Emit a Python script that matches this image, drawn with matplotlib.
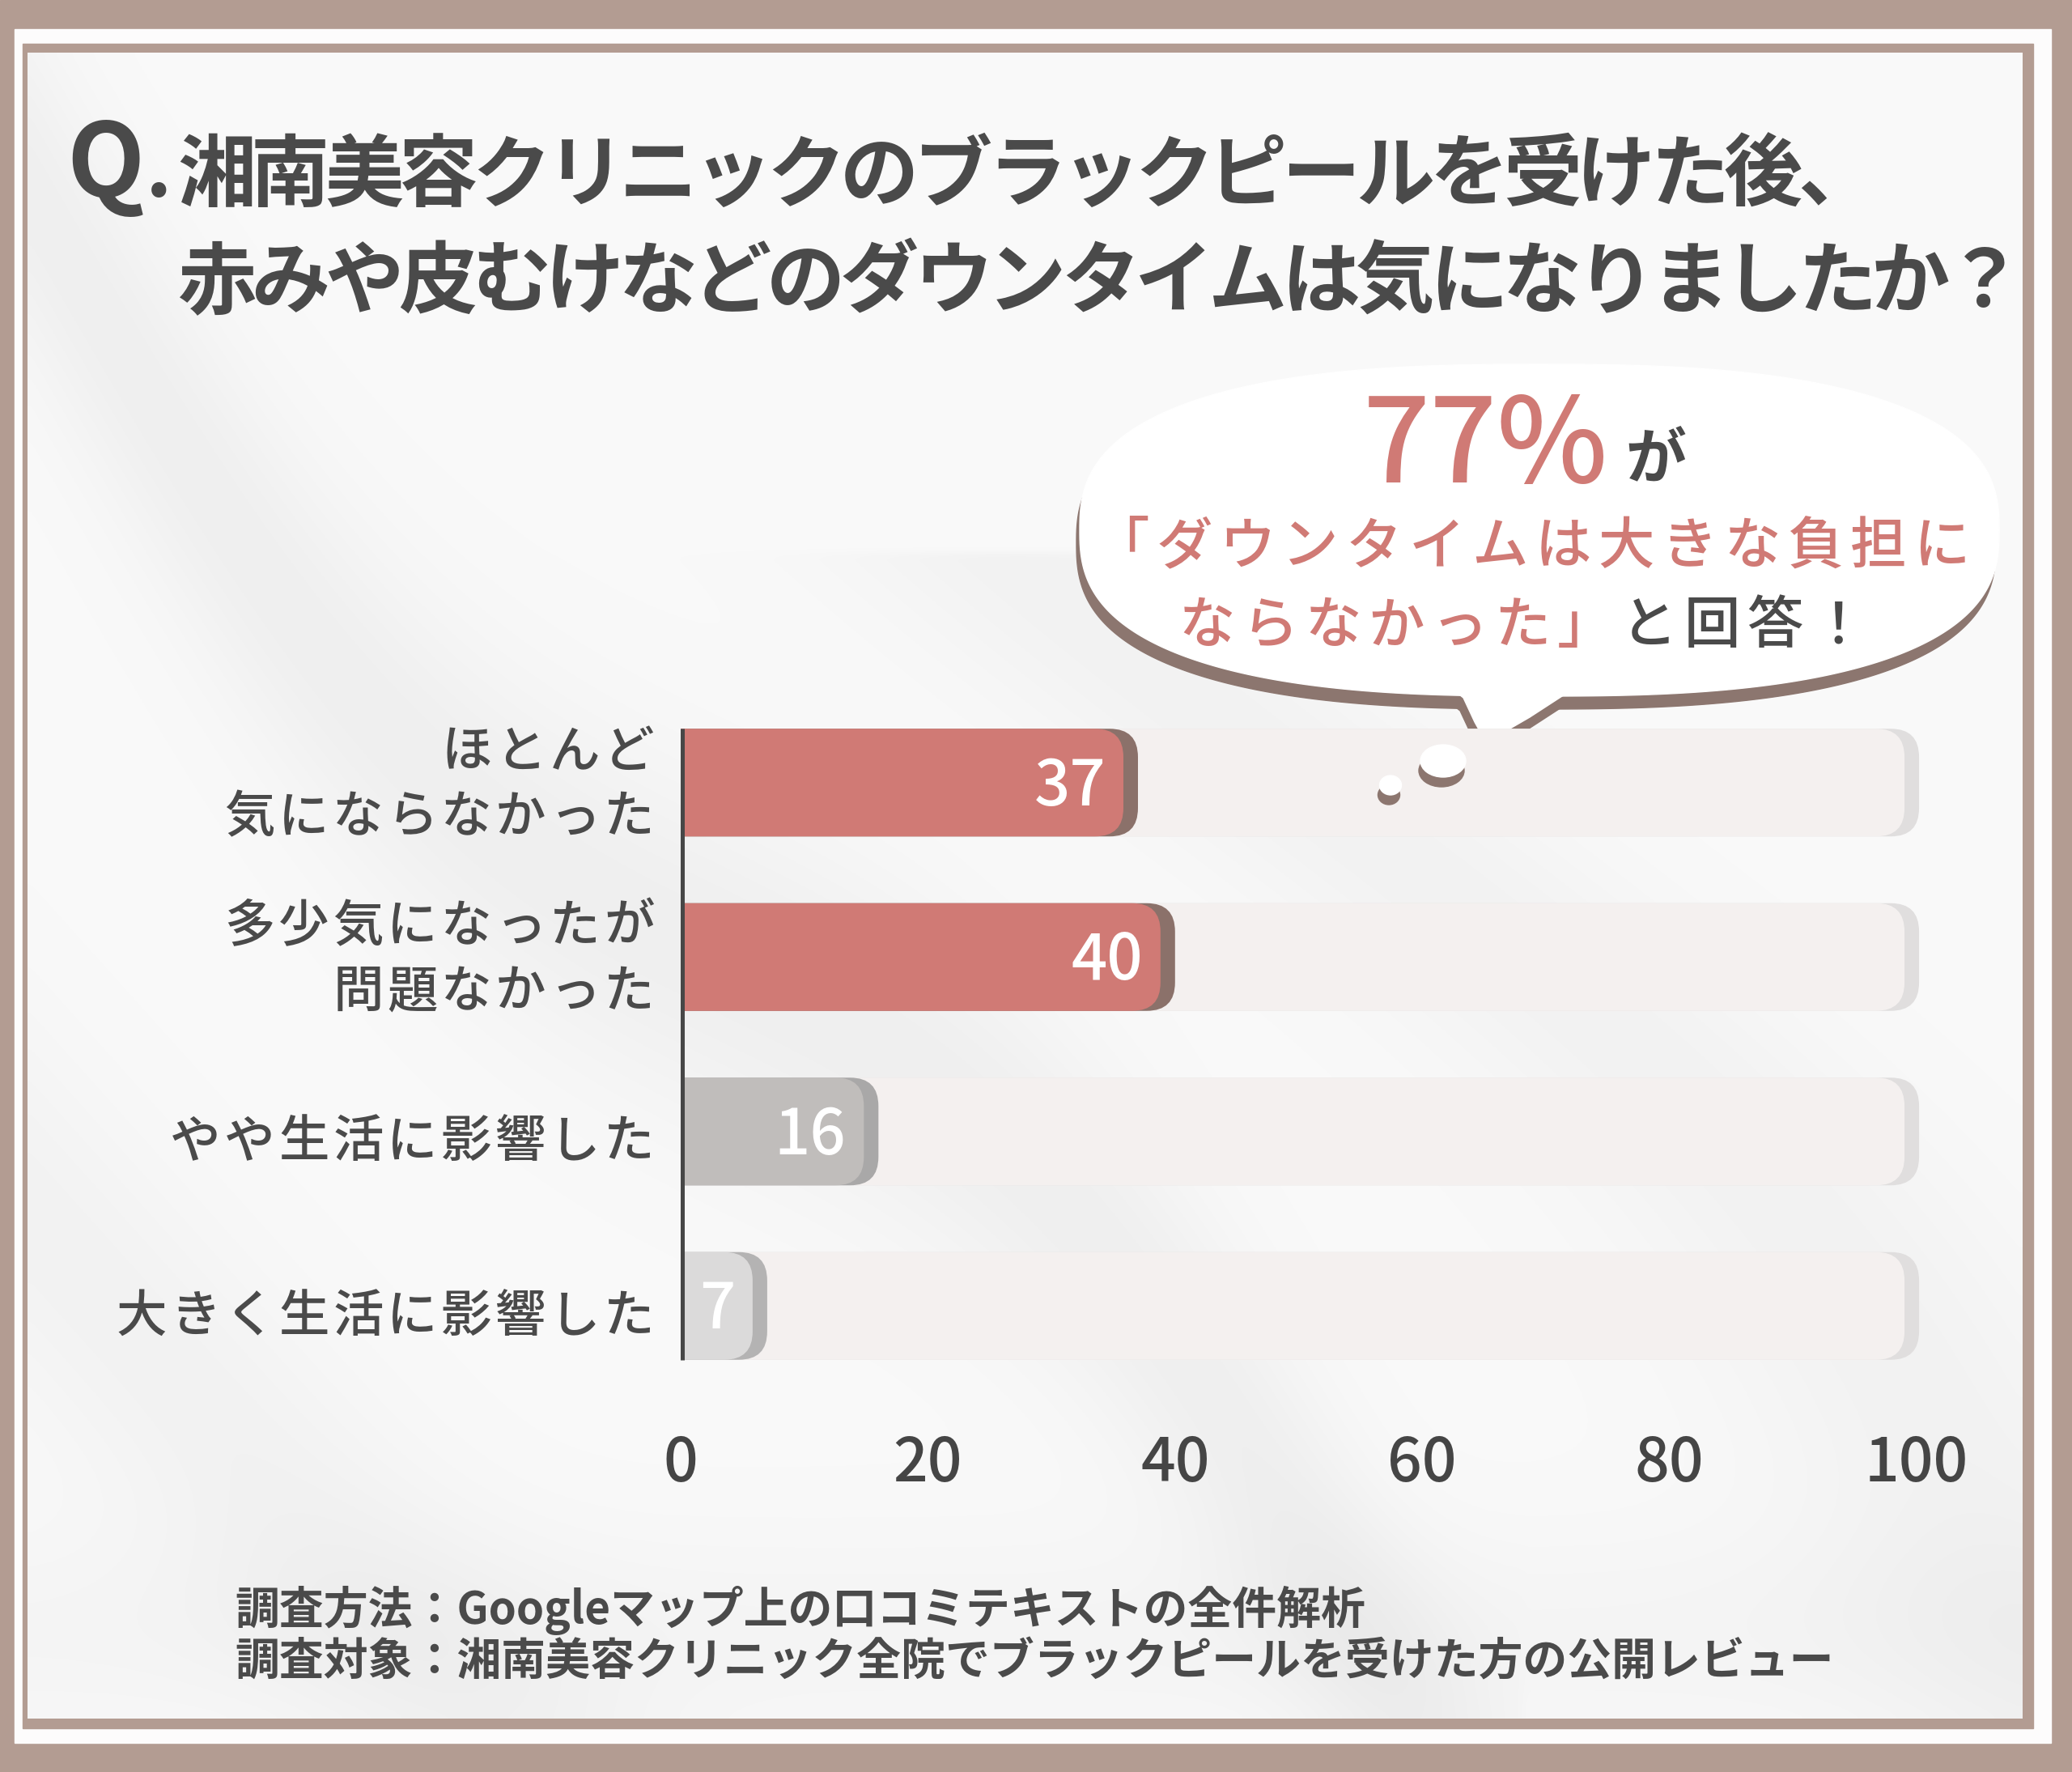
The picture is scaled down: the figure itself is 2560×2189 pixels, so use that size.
import matplotlib.pyplot as plt
import numpy as np
from matplotlib.patches import Ellipse, FancyBboxPatch, Polygon, Rectangle

plt.rcParams["font.family"] = ["Noto Sans CJK JP", "DejaVu Sans"]

# Chart content
title_q = "Q"
title_line1 = "湘南美容クリニックのブラックピールを受けた後、"
title_line2 = "赤みや皮むけなどのダウンタイムは気になりましたか？"
categories = [
    ["ほとんど", "気にならなかった"],
    ["多少気になったが", "問題なかった"],
    ["やや生活に影響した"],
    ["大きく生活に影響した"],
]
values = [37, 40, 16, 7]
x_ticks = [0, 20, 40, 60, 80, 100]
callout_line2 = "「ダウンタイムは大きな負担に"
callout_line3_red = "ならなかった」"
callout_line3_dark = "と回答！"
notes = [
    "調査方法：Googleマップ上の口コミテキストの全件解析",
    "調査対象：湘南美容クリニック全院でブラックピールを受けた方の公開レビュー",
]

W, H, DPI = 2560, 2189, 100
RED = "#d07a75"
DARK = "#4a4a4a"
FRAME = "#b39c92"
SHADOW = "#8c766f"
bar_colors = ["#d07a75", "#d07a75", "#c0bdbb", "#dbdada"]
shadow_colors = ["#8b716a", "#8b716a", "#a9a8a8", "#b4b3b3"]

fig = plt.figure(figsize=(W / DPI, H / DPI), dpi=DPI)


def pixel_axes(z):
    a = fig.add_axes([0, 0, 1, 1], zorder=z)
    a.set_xlim(0, W)
    a.set_ylim(H, 0)
    a.axis("off")
    a.patch.set_alpha(0)
    return a


# Background layer in pixel coordinates (y downwards)
bg = pixel_axes(0)
bg.add_patch(Rectangle((0, 0), W, H, color=FRAME, zorder=0))
bg.add_patch(Rectangle((18, 36), 2516, 2117, color="#fdfcfc", zorder=0))
bg.add_patch(Rectangle((28, 54), 2484, 2081, color=FRAME, zorder=0))

# soft leaf-like shadows on the paper
gx, gy = np.meshgrid(np.linspace(0, 1, 300), np.linspace(0, 1, 260))
u = gx * 0.8 - gy * 0.6
tex = 0.978
tex = tex - 0.04 * np.exp(-((u + 0.05 + 0.05 * np.sin(gx * 9)) ** 2) / 0.004) * (gx < 0.75)
tex = tex - 0.028 * np.exp(-((u - 0.25 + 0.04 * np.sin(gy * 7)) ** 2) / 0.006) * (gy > 0.3)
tex = tex - 0.028 * np.exp(-((u + 0.42) ** 2) / 0.005)
tex = tex - 0.018 * np.exp(-((gy - 0.95) ** 2) / 0.004)
tex = np.clip(tex, 0, 1)
bg.imshow(np.dstack([tex, tex, tex]), extent=(34, 2499, 2123, 65),
          interpolation="bicubic", aspect="auto", zorder=0.5)


def put(a, x, yc, s, size, ha="left", color=DARK, weight="medium", z=5):
    em = size / 72 * DPI
    a.text(x, yc + 0.38 * em, s, fontsize=size, ha=ha, va="baseline",
           color=color, fontweight=weight, zorder=z)


def spaced(a, x0, yc, s, size, pitch, color=DARK, weight="medium", z=5):
    for i, ch in enumerate(s):
        put(a, x0 + pitch * (i + 0.5), yc, ch, size, ha="center", color=color,
            weight=weight, z=z)
    return x0 + pitch * len(s)


# Title
bg.text(82, 243, title_q, fontsize=90, fontweight="bold", color=DARK,
        va="baseline", zorder=5)
bg.text(180, 243, ".", fontsize=72, fontweight="bold", color=DARK,
        va="baseline", zorder=5)
spaced(bg, 222, 210, title_line1, 70, 91, weight="bold")
spaced(bg, 222, 342, title_line2, 70, 91, weight="bold")

# Speech bubble
cx, cy, a, bt, bb = 1902, 655, 568, 205, 205
t = np.linspace(0, 2 * np.pi, 400)
ct, st = np.cos(t), np.sin(t)
n = 2.6
px = cx + a * np.sign(ct) * np.abs(ct) ** (2 / n)
py = cy + np.where(st > 0, bb, bt) * np.sign(st) * np.abs(st) ** (2 / n)
body = np.column_stack([px, py])
tail = np.array([[1780, 840], [1808, 862], [1822, 892], [1832, 910], [1852, 908],
                 [1890, 886], [1930, 860], [1960, 842], [1880, 800]])
for shape in (body, tail):
    bg.add_patch(Polygon(shape + [-4, 16], closed=True, color=SHADOW, zorder=2))
for shape in (body, tail):
    bg.add_patch(Polygon(shape, closed=True, color="white", zorder=3))

highlight = values[0] + values[1]
bg.text(1835, 596, f"{highlight}%", fontsize=105, ha="center", va="baseline",
        color=RED, fontweight="medium", zorder=5)
put(bg, 2008, 562, "が", 54, weight="bold")
spaced(bg, 1346, 670, callout_line2, 50, 78, color=RED)
xe = spaced(bg, 1452, 768, callout_line3_red, 50, 78, color=RED)
spaced(bg, xe, 768, callout_line3_dark, 50, 78, color=DARK)

# Bar chart axes
x0_px, x100_px = 841, 2368
top_px, bot_px = 859, 1721
ax = fig.add_axes([x0_px / W, 1 - bot_px / H, (x100_px - x0_px) / W, (bot_px - top_px) / H],
                  zorder=1)
ax.set_xlim(0, 100)
ax.set_ylim(len(values) - 0.5, -0.5)
ax.patch.set_alpha(0)
for sp in ax.spines.values():
    sp.set_visible(False)
ax.set_yticks([])
ax.set_xticks(x_ticks)
ax.set_xticklabels([str(v) for v in x_ticks], fontsize=54, color="#454545",
                   fontweight="medium")
ax.tick_params(axis="x", length=0, pad=36)

px_per_x = (x100_px - x0_px) / 100
px_per_y = (bot_px - top_px) / len(values)
asp = px_per_x / px_per_y
r = 35 / px_per_x
bh = 133 / px_per_y
clip = Rectangle((0, -1), 200, len(values) + 2, transform=ax.transData)


def rbar(x_end, yc, color, z):
    p = FancyBboxPatch((-6, yc - bh / 2), x_end + 6, bh,
                       boxstyle=f"round,pad=0,rounding_size={r}",
                       mutation_aspect=asp, color=color, lw=0, zorder=z)
    ax.add_patch(p)
    p.set_clip_path(clip)


gap = 18 / px_per_x
for i, v in enumerate(values):
    rbar(100.2, i, "#e0dede", 1)
    rbar(100.2 - gap, i, "#f4f0ef", 1.5)
    rbar(v, i, shadow_colors[i], 2)
    rbar(v - gap, i, bar_colors[i], 2.5)
    ax.text(v - gap - 22 / px_per_x, i + 28 / px_per_y, str(v), ha="right",
            va="baseline", fontsize=56, color="white", fontweight="medium", zorder=4)

ax.plot([0, 0], [-bh / 2, len(values) - 1 + bh / 2], color="#474747", lw=6.5,
        solid_capstyle="butt", zorder=5)

# Category labels, right-aligned with letter spacing
label_right = 811
pitch = 67
for i, lines in enumerate(categories):
    yc = H - ax.transData.transform((0, i))[1]
    if len(lines) == 2:
        ys = [yc - 43, yc + 38]
    else:
        ys = [yc + 8]
    for line, y in zip(lines, ys):
        spaced(bg, label_right - pitch * len(line), y, line, 45, pitch)

# Thought dots above the first track
top = pixel_axes(2)
for (ex, ey, ew, eh) in [(1783, 940, 56, 40), (1718, 970, 27, 24)]:
    top.add_patch(Ellipse((ex - 2, ey + 12), ew, eh, color=SHADOW, zorder=1))
    top.add_patch(Ellipse((ex, ey), ew, eh, color="white", zorder=2))

# Footnotes
for k, note in enumerate(notes):
    put(bg, 290, 1985 + 64 * k, note, 39.5, weight="bold")

fig.savefig("out.png", dpi=DPI)
